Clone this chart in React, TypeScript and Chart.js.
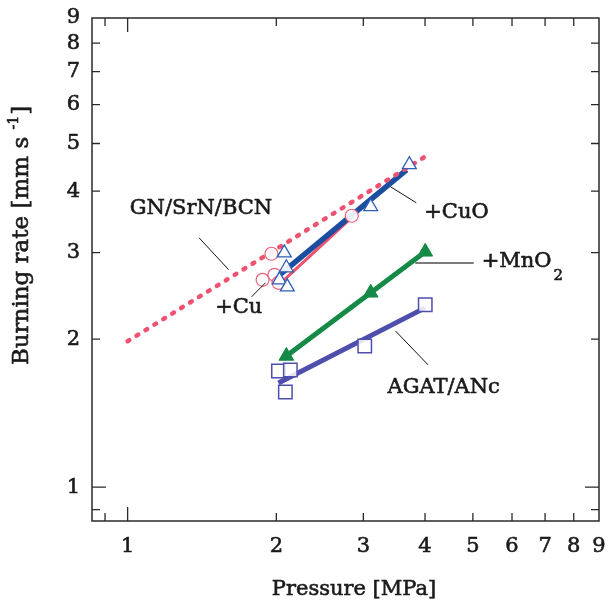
import React, { useEffect, useRef } from "react";
import { Chart, registerables } from "chart.js";

Chart.register(...registerables);

// ---- axis ranges & ticks ----
const X_MIN = 0.847;
const X_MAX = 9;
const Y_MIN = 0.853;
const Y_MAX = 9;
const MAJOR_TICKS = [1, 2, 3, 4, 5, 6, 7, 8, 9];
const MINOR_TICKS = [0.9];
const TICK_LABELS = ["1", "2", "3", "4", "5", "6", "7", "8", "9"];

// ---- GN/SrN/BCN reference (dotted) ----
const refX = [1.0, 4.0];
const refY = [1.98, 4.7];

// ---- +Cu (open circles) ----
const cuX = [1.955, 1.876, 1.983, 2.02, 2.843];
const cuY = [2.983, 2.64, 2.703, 2.603, 3.564];
const cuFitX = [1.99, 2.88];
const cuFitY = [2.54, 3.58];

// ---- +CuO (open triangles) ----
const cuoX = [2.076, 2.096, 2.029, 2.105, 3.105, 3.718];
const cuoY = [2.996, 2.793, 2.64, 2.555, 3.718, 4.527];
const cuoFitX = [2.02, 3.67];
const cuoFitY = [2.69, 4.42];

// ---- +MnO2 (filled triangles) ----
const mnoX = [2.096, 3.105, 4.004];
const mnoY = [1.848, 2.484, 3.01];

// ---- AGAT/ANc (open squares) ----
const agatX = [2.02, 2.135, 2.086, 3.02, 4.004];
const agatY = [1.723, 1.731, 1.561, 1.937, 2.348];
const agatFitX = [2.02, 4.0];
const agatFitY = [1.628, 2.315];

// ---- annotations (data coordinates) ----
const labelTexts = ["GN/SrN/BCN", "+Cu", "+CuO", "AGAT/ANc"];
const labelX = [1.408, 1.679, 3.985, 3.358];
const labelY = [3.684, 2.315, 3.614, 1.591];
const labelAlign = ["center", "center", "left", "left"];
const leaderX1 = [1.395, 1.782, 3.405, 3.485];
const leaderY1 = [3.215, 2.438, 4.083, 2.078];
const leaderX2 = [1.602, 1.901, 3.84, 4.058];
const leaderY2 = [2.767, 2.603, 3.787, 1.772];
const mnoLabelX = 5.21;
const mnoLabelY = 2.872;
const mnoLeaderX = [3.822, 5.02];
const mnoLeaderY = 2.858;

const FONT = "'DejaVu Serif', serif";
const TXT = "#1a1a1a";
const PINK = "rgb(238, 82, 112)";
const BLUE = "rgb(28, 78, 160)";
const BLUE_MK = "rgb(45, 95, 180)";
const GREEN = "rgb(20, 138, 70)";
const PURPLE = "rgb(78, 78, 172)";

const pts = (xs: number[], ys: number[]) => xs.map((x, i) => ({ x, y: ys[i] }));

function heavyText(ctx: CanvasRenderingContext2D, t: string, x: number, y: number) {
  ctx.strokeStyle = TXT;
  ctx.lineWidth = 0.6;
  ctx.strokeText(t, x, y);
  ctx.fillText(t, x, y);
}

const overlayPlugin = {
  id: "overlay",
  afterDatasetsDraw(chart: any) {
    const { ctx, chartArea: a, scales } = chart;
    const xs = scales.x;
    const ys = scales.y;
    ctx.save();
    // frame
    ctx.strokeStyle = "#2a2a2a";
    ctx.lineWidth = 1.5;
    ctx.strokeRect(a.left, a.top, a.right - a.left, a.bottom - a.top);
    // inward ticks
    ctx.lineWidth = 1.3;
    const all = [...MINOR_TICKS, ...MAJOR_TICKS];
    all.forEach((v) => {
      const len = v === 1 ? 14 : 8;
      const px = xs.getPixelForValue(v);
      if (px > a.left + 1 && px < a.right - 1) {
        ctx.beginPath();
        ctx.moveTo(px, a.bottom);
        ctx.lineTo(px, a.bottom - len);
        ctx.moveTo(px, a.top);
        ctx.lineTo(px, a.top + len);
        ctx.stroke();
      }
      const py = ys.getPixelForValue(v);
      if (py > a.top + 1 && py < a.bottom - 1) {
        ctx.beginPath();
        ctx.moveTo(a.left, py);
        ctx.lineTo(a.left + len, py);
        ctx.moveTo(a.right, py);
        ctx.lineTo(a.right - len, py);
        ctx.stroke();
      }
    });
    // leader lines
    ctx.strokeStyle = "#111";
    ctx.lineWidth = 1;
    leaderX1.forEach((_, i) => {
      ctx.beginPath();
      ctx.moveTo(xs.getPixelForValue(leaderX1[i]), ys.getPixelForValue(leaderY1[i]));
      ctx.lineTo(xs.getPixelForValue(leaderX2[i]), ys.getPixelForValue(leaderY2[i]));
      ctx.stroke();
    });
    ctx.strokeStyle = "#7a7a7a";
    ctx.lineWidth = 2;
    ctx.beginPath();
    ctx.moveTo(xs.getPixelForValue(mnoLeaderX[0]), ys.getPixelForValue(mnoLeaderY));
    ctx.lineTo(xs.getPixelForValue(mnoLeaderX[1]), ys.getPixelForValue(mnoLeaderY));
    ctx.stroke();
    // labels
    ctx.fillStyle = TXT;
    ctx.font = `21px ${FONT}`;
    ctx.textBaseline = "middle";
    labelTexts.forEach((t, i) => {
      ctx.textAlign = labelAlign[i] as CanvasTextAlign;
      heavyText(ctx, t, xs.getPixelForValue(labelX[i]), ys.getPixelForValue(labelY[i]));
    });
    // +MnO2
    ctx.textAlign = "left";
    const mx = xs.getPixelForValue(mnoLabelX);
    const my = ys.getPixelForValue(mnoLabelY);
    heavyText(ctx, "+MnO", mx, my);
    const w = ctx.measureText("+MnO").width;
    ctx.font = `15px ${FONT}`;
    heavyText(ctx, "2", mx + w + 2, my + 14);
    // axis titles
    ctx.font = `21px ${FONT}`;
    ctx.textAlign = "center";
    heavyText(ctx, "Pressure [MPa]", 354, 590);
    ctx.save();
    ctx.translate(22, 236);
    ctx.rotate(-Math.PI / 2);
    ctx.textAlign = "left";
    const p1 = "Burning rate [mm s ";
    const p2 = "-1";
    const p3 = "]";
    const big = `23px ${FONT}`;
    const small = `14px ${FONT}`;
    ctx.font = big;
    const w1 = ctx.measureText(p1).width;
    const w3 = ctx.measureText(p3).width;
    ctx.font = small;
    const w2 = ctx.measureText(p2).width;
    const total = w1 + w2 + w3;
    const sx = -total / 2;
    ctx.font = big;
    heavyText(ctx, p1, sx, 0);
    ctx.font = small;
    heavyText(ctx, p2, sx + w1, -8);
    ctx.font = big;
    heavyText(ctx, p3, sx + w1 + w2 + 1, 0);
    ctx.restore();
    ctx.restore();
  },
};

export default function App() {
  const ref = useRef<HTMLCanvasElement | null>(null);
  useEffect(() => {
    if (!ref.current) return;
    const tickFont = { family: FONT, size: 21 };
    const chart = new Chart(ref.current, {
      type: "scatter",
      data: {
        datasets: [
          {
            data: pts(cuoX, cuoY),
            showLine: false,
            pointStyle: "triangle",
            pointRadius: 8,
            borderColor: BLUE_MK,
            backgroundColor: "rgba(255,255,255,0.9)",
            pointBorderWidth: 1.3,
          },
          {
            data: pts(cuX, cuY),
            showLine: false,
            pointStyle: "circle",
            pointRadius: 6.5,
            borderColor: "rgb(240, 95, 120)",
            backgroundColor: "rgba(255,255,255,0.9)",
            pointBorderWidth: 1.2,
          },
          {
            data: pts(refX, refY),
            showLine: true,
            borderColor: PINK,
            borderWidth: 4.5,
            borderDash: [2, 8.5],
            borderCapStyle: "round",
            pointRadius: 0,
          },
          {
            data: pts(cuoFitX, cuoFitY),
            showLine: true,
            borderColor: BLUE,
            borderWidth: 5.5,
            pointRadius: 0,
          },
          {
            data: pts(cuFitX, cuFitY),
            showLine: true,
            borderColor: PINK,
            borderWidth: 3,
            pointRadius: 0,
          },
          {
            data: pts(mnoX, mnoY),
            showLine: true,
            borderColor: GREEN,
            borderWidth: 5,
            pointStyle: "triangle",
            pointRadius: 8.5,
            backgroundColor: GREEN,
            pointBorderWidth: 1,
          },
          {
            data: pts(agatX, agatY),
            showLine: false,
            pointStyle: "rect",
            pointRadius: 9.5,
            borderColor: PURPLE,
            backgroundColor: "rgba(255,255,255,0.85)",
            pointBorderWidth: 1.5,
          },
          {
            data: pts(agatFitX, agatFitY),
            showLine: true,
            borderColor: PURPLE,
            borderWidth: 5,
            pointRadius: 0,
          },
        ],
      },
      options: {
        responsive: false,
        animation: false,
        layout: { padding: { top: 18, right: 7, left: 0, bottom: 0 } },
        plugins: { legend: { display: false }, tooltip: { enabled: false } },
        scales: {
          x: {
            type: "logarithmic",
            min: X_MIN,
            max: X_MAX,
            afterFit(s: any) {
              s.height = 82;
              s.paddingLeft = 0;
              s.paddingRight = 0;
            },
            afterBuildTicks(s: any) {
              s.ticks = MAJOR_TICKS.map((v) => ({ value: v }));
            },
            ticks: {
              callback: (v: any) => TICK_LABELS[MAJOR_TICKS.indexOf(Number(v))] ?? "",
              font: tickFont,
              color: TXT,
              textStrokeColor: TXT,
              textStrokeWidth: 0.6,
              padding: 13,
              maxRotation: 0,
              autoSkip: false,
            },
            grid: { display: false, drawTicks: false },
            border: { display: false },
          },
          y: {
            type: "logarithmic",
            min: Y_MIN,
            max: Y_MAX,
            afterFit(s: any) {
              s.width = 92;
              s.paddingTop = 0;
              s.paddingBottom = 0;
            },
            afterBuildTicks(s: any) {
              s.ticks = MAJOR_TICKS.map((v) => ({ value: v }));
            },
            ticks: {
              callback: (v: any) => TICK_LABELS[MAJOR_TICKS.indexOf(Number(v))] ?? "",
              font: tickFont,
              color: TXT,
              textStrokeColor: TXT,
              textStrokeWidth: 0.6,
              padding: 12,
              autoSkip: false,
            },
            grid: { display: false, drawTicks: false },
            border: { display: false },
          },
        },
      },
      plugins: [overlayPlugin],
    } as any);
    return () => chart.destroy();
  }, []);
  return (
    <div style={{ position: "absolute", left: 0, top: 0, width: 610, height: 603, background: "#fff" }}>
      <canvas ref={ref} width={610} height={603} style={{ display: "block" }} />
    </div>
  );
}
